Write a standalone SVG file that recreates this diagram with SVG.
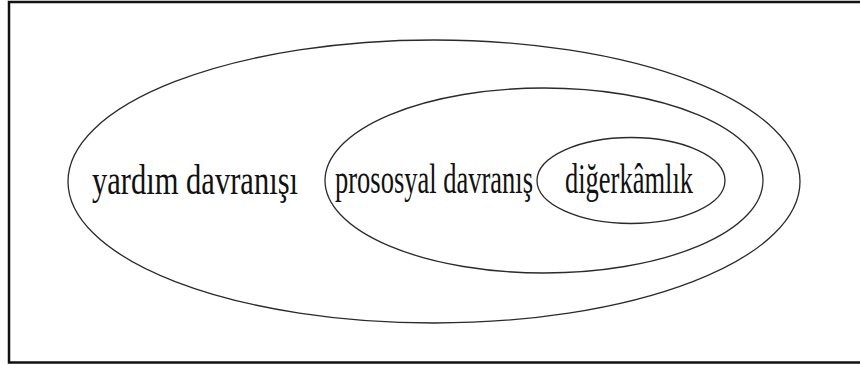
<svg xmlns="http://www.w3.org/2000/svg" width="860" height="365" viewBox="0 0 860 365">
  <style>
    .frame { fill: #ffffff; stroke: #111111; stroke-width: 2.5; }
    .set { fill: none; stroke: #2a2a2a; stroke-width: 1.3; }
    .label { font-family: "Liberation Serif", "Times New Roman", serif; font-size: 42px; fill: #111111; }
  </style>
  <rect class="frame" x="9" y="2" width="860" height="360.5"/>
  <g id="yardim-davranisi">
    <ellipse class="set" cx="434" cy="181.5" rx="366" ry="141.5"/>
    <text class="label" x="92" y="194" textLength="206" lengthAdjust="spacingAndGlyphs">yardım davranışı</text>
  </g>
  <g id="prososyal-davranis">
    <ellipse class="set" cx="544" cy="180.5" rx="219" ry="92.5"/>
    <text class="label" x="335" y="193" textLength="198" lengthAdjust="spacingAndGlyphs">prososyal davranış</text>
  </g>
  <g id="digerkamlik">
    <ellipse class="set" cx="631" cy="180.5" rx="94" ry="43"/>
    <text class="label" x="565" y="193" textLength="128" lengthAdjust="spacingAndGlyphs">diğerkâmlık</text>
  </g>
  <g id="connectors"/>
</svg>
